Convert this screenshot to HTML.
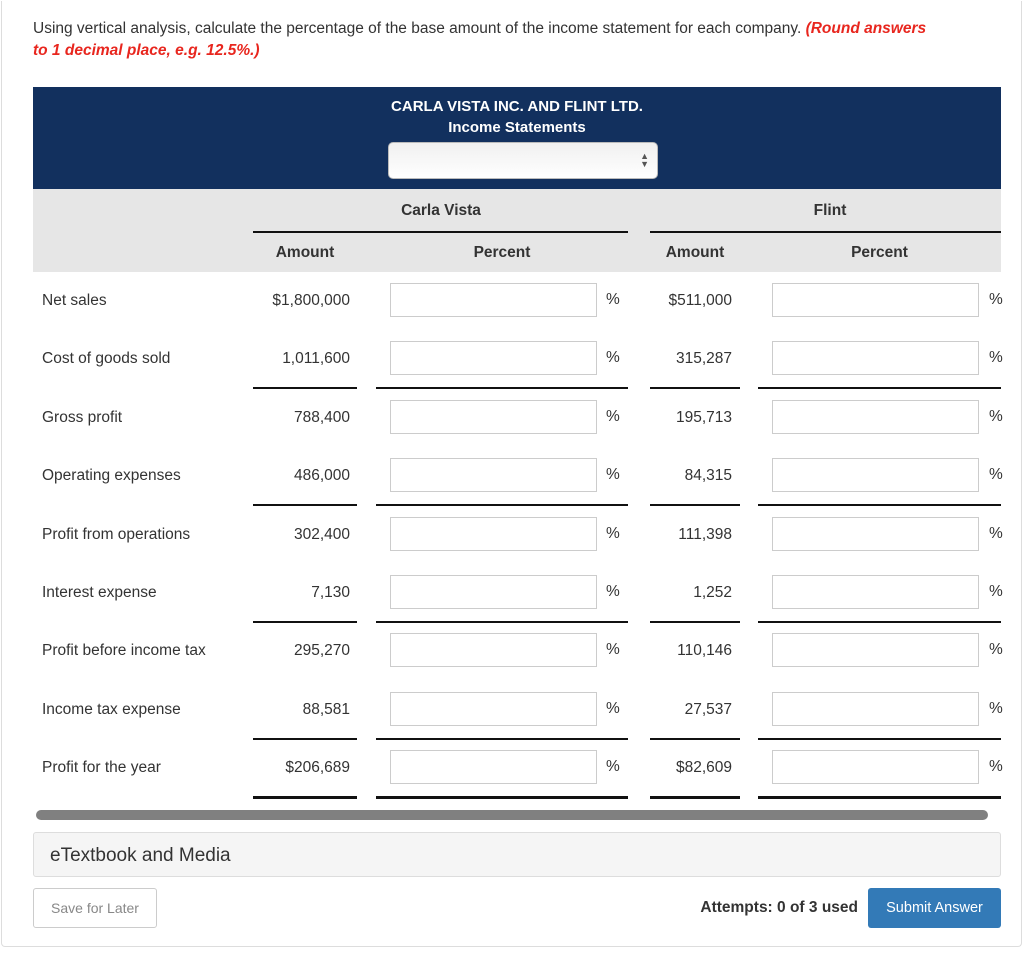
<!DOCTYPE html>
<html><head><meta charset="utf-8"><style>
*{box-sizing:border-box;margin:0;padding:0}
body{width:1024px;height:961px;background:#fff;font-family:"Liberation Sans",sans-serif;color:#333;position:relative;overflow:hidden}
.card{position:absolute;left:1px;top:1px;width:1021px;height:946px;border:1px solid #ddd;border-top:none;border-radius:0 0 4px 4px}
.abs{position:absolute}
.instr{left:33px;top:18px;width:990px;font-size:15.5px;line-height:22px;color:#333;white-space:nowrap}
.instr b{color:#e8261e;font-style:italic}
.navy{left:33px;top:87px;width:968px;height:102px;background:#12305e;color:#fff;text-align:center;font-size:15px;font-weight:bold}
.sel{left:388px;top:142px;width:270px;height:37px;background:linear-gradient(#f0f0f0,#fff);border:1px solid #bbb;border-radius:5px}
.gray{left:33px;top:189px;width:968px;height:83px;background:#e6e6e6}
.h{font-size:15.5px;color:#333;font-weight:bold;text-align:center}
.row{font-size:15.5px;color:#333}
.inp{width:207px;height:34px;border:1px solid #ccc;background:#fff}
.ln{height:2px;background:#111}
</style></head><body>
<div class="card"></div>
<div class="abs instr">Using vertical analysis, calculate the percentage of the base amount of the income statement for each company. <b>(Round answers<br>to 1 decimal place, e.g. 12.5%.)</b></div>
<div class="abs navy"><div style="margin-top:11px">CARLA VISTA INC. AND FLINT LTD.</div><div style="margin-top:4px;font-size:15px">Income Statements</div></div>
<div class="abs sel"><span style="position:absolute;right:8px;top:9px;font-size:9px;line-height:8px;color:#555">▲<br>▼</span></div>
<div class="abs gray"></div>
<div class="abs h" style="left:376px;top:202px;width:130px">Carla Vista</div>
<div class="abs h" style="left:780px;top:202px;width:100px">Flint</div>
<div class="abs ln" style="left:253px;top:231px;width:375px"></div>
<div class="abs ln" style="left:650px;top:231px;width:351px"></div>
<div class="abs h" style="left:253px;top:244px;width:104px">Amount</div>
<div class="abs h" style="left:376px;top:244px;width:252px">Percent</div>
<div class="abs h" style="left:650px;top:244px;width:90px">Amount</div>
<div class="abs h" style="left:758px;top:244px;width:243px">Percent</div>
<div id="rows"></div>
<script>
var d=[["Net sales","$1,800,000","$511,000"],["Cost of goods sold","1,011,600","315,287"],["Gross profit","788,400","195,713"],["Operating expenses","486,000","84,315"],["Profit from operations","302,400","111,398"],["Interest expense","7,130","1,252"],["Profit before income tax","295,270","110,146"],["Income tax expense","88,581","27,537"],["Profit for the year","$206,689","$82,609"]];
var h="";
d.forEach(function(r,i){var c=300+i*58.4;
h+='<div class="abs row" style="left:42px;top:'+(c-8)+'px">'+r[0]+'</div>';
h+='<div class="abs row" style="left:230px;width:120px;text-align:right;top:'+(c-8)+'px">'+r[1]+'</div>';
h+='<div class="abs inp" style="left:390px;top:'+(c-17)+'px"></div><div class="abs row" style="left:606px;top:'+(c-9)+'px">%</div>';
h+='<div class="abs row" style="left:610px;width:122px;text-align:right;top:'+(c-8)+'px">'+r[2]+'</div>';
h+='<div class="abs inp" style="left:772px;top:'+(c-17)+'px"></div><div class="abs row" style="left:989px;top:'+(c-9)+'px">%</div>';
if(i%2==1||i==8){var y=c+29,t=i==8?3:2;
[[253,104],[376,252],[650,90],[758,243]].forEach(function(s){h+='<div class="abs" style="background:#111;height:'+t+'px;left:'+s[0]+'px;width:'+s[1]+'px;top:'+y+'px"></div>';});}
});
document.getElementById("rows").innerHTML=h;
</script>
<div class="abs" style="left:36px;top:810px;width:952px;height:10px;background:#808080;border-radius:5px"></div>
<div class="abs" style="left:33px;top:832px;width:968px;height:45px;background:#f5f5f5;border:1px solid #ddd;border-radius:3px;font-size:19px;padding:12px 0 0 16px;color:#333">eTextbook and Media</div>
<div class="abs" style="left:33px;top:888px;width:124px;height:40px;border:1px solid #ccc;border-radius:3px;font-size:14px;color:#888;text-align:center;line-height:38px">Save for Later</div>
<div class="abs" style="left:660px;top:899px;width:198px;text-align:right;font-size:15.5px;font-weight:bold;color:#333">Attempts: 0 of 3 used</div>
<div class="abs" style="left:868px;top:888px;width:133px;height:40px;background:#337ab7;border-radius:3px;font-size:14.5px;color:#fff;text-align:center;line-height:40px">Submit Answer</div>
</body></html>
